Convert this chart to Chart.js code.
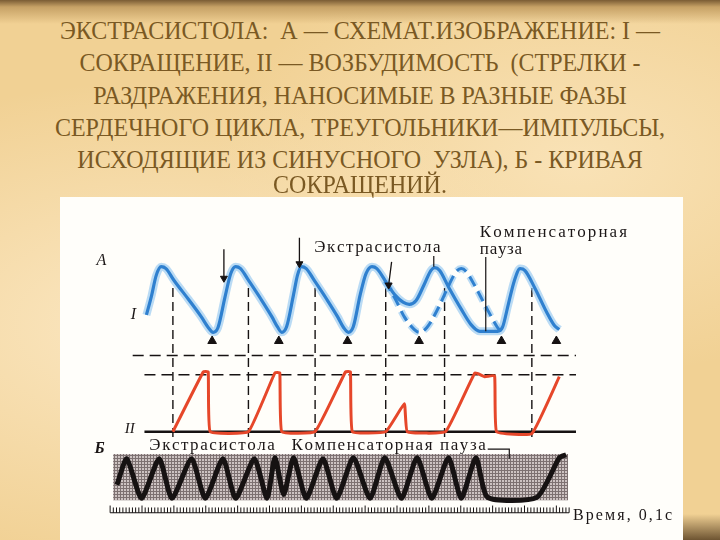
<!DOCTYPE html>
<html>
<head>
<meta charset="utf-8">
<script src="https://cdn.jsdelivr.net/npm/chart.js@4.4.1/dist/chart.umd.min.js"></script>
<style>
  html, body { margin: 0; padding: 0; }
  body {
    width: 720px; height: 540px; overflow: hidden; position: relative;
    background:
      linear-gradient(to bottom, #7a5c34 0px, #c7a266 7px, rgba(238,206,146,0) 24px),
      radial-gradient(ellipse 60% 45% at 22% 60%, #fbe7c2 0%, rgba(251,231,194,0) 100%),
      radial-gradient(ellipse 50% 40% at 80% 30%, #f9e2b6 0%, rgba(249,226,182,0) 100%),
      #f1d194;
  }
  .tl {
    position: absolute; left: 0; width: 720px; text-align: center; z-index: 2;
    font-family: "Liberation Serif", "DejaVu Serif", serif; font-size: 24px;
    line-height: 26px; color: #7a5923; white-space: nowrap;
    transform: scaleY(1.08);
  }
  #corner { position: absolute; left: 683px; top: 514px; width: 37px; height: 26px;
    background: linear-gradient(to bottom, rgba(110,84,50,0) 0%, #6e5432 100%); }
  #panel { position: absolute; left: 60px; top: 197px; width: 623px; height: 343px; background: #fffefa; }
  #fig { position: absolute; left: 60px; top: 197px; }
</style>
</head>
<body>
<div class="tl" style="top:17px">ЭКСТРАСИСТОЛА:&nbsp; А — СХЕМАТ.ИЗОБРАЖЕНИЕ: I —</div>
<div class="tl" style="top:49px">СОКРАЩЕНИЕ, II — ВОЗБУДИМОСТЬ&nbsp; (СТРЕЛКИ -</div>
<div class="tl" style="top:82px">РАЗДРАЖЕНИЯ, НАНОСИМЫЕ В РАЗНЫЕ ФАЗЫ</div>
<div class="tl" style="top:114px">СЕРДЕЧНОГО ЦИКЛА, ТРЕУГОЛЬНИКИ—ИМПУЛЬСЫ,</div>
<div class="tl" style="top:146px">ИСХОДЯЩИЕ ИЗ СИНУСНОГО&nbsp; УЗЛА), Б - КРИВАЯ</div>
<div class="tl" style="top:171px">СОКРАЩЕНИЙ.</div>
<div id="corner"></div>
<div id="panel"></div>
<canvas id="fig" width="623" height="343"></canvas>
<script>
// Curve I - contraction (solid) and expected normal course (dashed)
const contraction = [
  [8.2,22.7],[8.7,24.6],[9.2,26.8],[9.7,27.7],[10.2,27.5],[11.0,26.3],[12.5,24.3],[13.8,22.5],[14.5,21.4],
  [15.0,20.9],[15.5,21.4],[16.2,24.5],[16.8,27.0],[17.3,27.7],
  [17.8,27.5],[18.6,26.3],[19.9,24.3],[21.0,22.5],[21.6,21.4],[22.0,20.9],[22.5,21.5],[23.2,24.8],[23.6,26.8],[24.0,27.7],
  [24.5,27.5],[25.3,26.3],[26.6,24.3],[27.7,22.5],[28.3,21.4],[28.8,20.9],[29.3,21.5],[30.0,24.8],[30.6,27.0],[31.2,27.7],
  [31.7,27.5],[32.7,26.0],[33.6,24.7],[34.4,24.0],[35.0,23.8],[35.7,24.2],[36.5,25.8],[37.2,27.3],[37.6,27.6],
  [38.1,27.3],[39.0,25.6],[40.3,23.3],[41.3,21.7],[42.2,21.0],[44.0,21.0],[44.5,21.4],[45.1,23.8],[45.7,26.2],
  [46.3,27.5],[46.8,27.3],[47.8,25.5],[49.0,23.0],[49.8,21.6],[50.3,21.2]
];
const contractionNormal = [
  [32.5,26.2],[33.5,24.5],[34.5,22.5],[35.5,21.2],[36.0,20.9],[36.8,21.4],[38.0,23.5],[39.0,25.7],
  [39.8,27.2],[40.3,27.5],[40.8,27.2],[41.8,25.5],[43.0,23.2],[44.0,21.4],[44.3,21.0]
];
// Curve II - excitability
const excitability = [
  [10.9,10.6],[14.0,16.8],[14.5,16.8],[14.7,10.6],[18.6,10.6],[21.3,16.7],[21.8,16.7],[22.0,10.6],
  [25.4,10.6],[28.5,16.8],[29.0,16.8],[29.2,10.6],[32.6,10.6],[34.5,13.5],[34.8,10.6],[38.7,10.6],
  [41.7,16.7],[42.7,16.3],[43.7,16.4],[43.9,10.6],[47.5,10.4],[50.3,16.3]
];
// Curve B - recorded contractions
const recording = [
  [5.2,5.1],[6.2,7.8],[7.7,3.7],[9.5,7.8],[10.8,3.7],[12.8,7.8],[14.2,3.7],[16.0,7.8],[17.3,3.7],
  [19.2,7.8],[20.5,3.7],[21.3,7.9],[22.2,4.1],[23.2,7.9],[24.5,3.7],[26.2,7.8],[27.6,3.7],[29.3,7.9],
  [31.0,3.7],[32.5,7.9],[34.2,3.7],[35.8,7.9],[37.3,3.7],[39.0,7.9],[40.3,3.7],[41.8,7.9],[43.0,3.8],
  [48.0,3.8],[50.3,7.9],[51.0,8.2]
];
// sinus node impulses (triangles) and stimuli (arrows)
const impulseTimes = [14.9, 21.7, 28.7, 36.0, 44.4, 50.0];
const impulseLevel = 20.0;
const stimuli = [[16.1,29.5,16.1,26.5],[23.8,30.7,23.8,28.0],[33.2,28.2,32.9,25.8]];
const leaders = [[37.5,28.8,37.5,27.7],[42.8,28.7,42.8,21.0]];
const phaseLines = [10.9, 18.6, 25.4, 32.6, 38.6, 47.5];
const phaseTop = 25.5, phaseBottom = 10.0;
const dashedLevels = [[18.5,6.8,52.0],[16.5,8.0,52.0]];
const baseline = [10.6, 8.0, 52.0];
const band = [4.8, 51.2, 8.3, 3.5];
const pauseLeader = [[43.0,8.8],[45.2,8.8],[45.2,7.8]];
const ruler = { from: 4.5, to: 51.3, step: 0.325, base: 2.2, tick: 2.75, longTick: 2.95 };

const labels = [
  { text: 'А', x: 3.1, y: 28.3, font: 'italic 16px "Liberation Serif"' },
  { text: 'I', x: 6.6, y: 22.7, font: 'italic 16px "Liberation Serif"' },
  { text: 'II', x: 6.0, y: 10.9, font: 'italic 15px "Liberation Serif"' },
  { text: 'Б', x: 2.9, y: 8.8, font: 'italic bold 16px "Liberation Serif"' },
  { text: 'Экстрасистола', x: 25.3, to: 38.2, y: 29.7, font: '17px "Liberation Serif"' },
  { text: 'Компенсаторная', x: 42.2, to: 57.2, y: 31.2, font: '17px "Liberation Serif"' },
  { text: 'пауза', x: 42.2, to: 46.5, y: 29.5, font: '17px "Liberation Serif"' },
  { text: 'Экстрасистола', x: 8.5, to: 21.3, y: 9.2, font: '17px "Liberation Serif"' },
  { text: 'Компенсаторная пауза', x: 23.0, to: 42.8, y: 9.2, font: '17px "Liberation Serif"' },
  { text: 'Время, 0,1с', x: 51.7, to: 61.8, y: 1.9, font: '16px "Liberation Serif"' }
];

const pts = arr => arr.map(p => ({ x: p[0], y: p[1] }));

// segments separated by gaps
function segs(list) {
  const out = [];
  list.forEach(s => { out.push(...s, { x: s[s.length - 1].x, y: null }); });
  return out;
}

const rulerTicks = [];
for (let i = 0, t = ruler.from; t <= ruler.to + 0.001; i++, t = ruler.from + i * ruler.step) {
  rulerTicks.push([{ x: t, y: ruler.base }, { x: t, y: i % 10 === 0 ? ruler.longTick : ruler.tick }]);
}

// halftone pattern for the recording strip
const pc = document.createElement('canvas');
pc.width = 3; pc.height = 3;
const pctx = pc.getContext('2d');
pctx.fillStyle = '#cdc3c2'; pctx.fillRect(0, 0, 3, 3);
pctx.fillStyle = '#7d7171'; pctx.fillRect(0, 0, 3, 1); pctx.fillRect(0, 0, 1, 3);
const halftone = pctx.createPattern(pc, 'repeat');

const figureText = {
  id: 'figureText',
  afterDatasetsDraw(chart) {
    const { ctx, scales: { x, y } } = chart;
    ctx.save();
    ctx.fillStyle = '#1b1616';
    ctx.textBaseline = 'middle';
    labels.forEach(l => {
      ctx.font = l.font;
      const px = x.getPixelForValue(l.x), py = y.getPixelForValue(l.y);
      if (!l.to) { ctx.fillText(l.text, px, py); return; }
      const chars = [...l.text];
      const w = chars.reduce((s, c) => s + ctx.measureText(c).width, 0);
      const gap = (x.getPixelForValue(l.to) - px - w) / (chars.length - 1);
      let cx = px;
      chars.forEach(c => { ctx.fillText(c, cx, py); cx += ctx.measureText(c).width + gap; });
    });
    ctx.restore();
  }
};

const ink = '#161212';
const blueGlow = 'rgba(140,195,240,0.6)';
const blue = '#2f80cf';
const smooth = { cubicInterpolationMode: 'monotone' };

new Chart(document.getElementById('fig'), {
  type: 'line',
  data: {
    datasets: [
      // markers on top
      { data: impulseTimes.map(t => ({ x: t, y: impulseLevel })), showLine: false, pointStyle: 'triangle',
        pointRadius: 5, pointBackgroundColor: ink, pointBorderColor: ink, order: 0 },
      { data: stimuli.map(s => ({ x: s[2], y: s[3] })), showLine: false, pointStyle: 'triangle', pointRotation: 180,
        pointRadius: 4, pointBackgroundColor: ink, pointBorderColor: ink, order: 0 },
      { data: segs(stimuli.map(s => [{ x: s[0], y: s[1] }, { x: s[2], y: s[3] }])), borderColor: ink, borderWidth: 1.3, order: 0 },
      { data: segs(leaders.map(s => [{ x: s[0], y: s[1] }, { x: s[2], y: s[3] }])), borderColor: ink, borderWidth: 1.2, order: 0 },
      { data: pts(pauseLeader), borderColor: ink, borderWidth: 1.2, order: 0 },
      // curve I
      { data: pts(contraction), borderColor: blue, borderWidth: 3.2, ...smooth, order: 1 },
      { data: pts(contraction), borderColor: blueGlow, borderWidth: 8, ...smooth, order: 2 },
      { data: pts(contractionNormal), borderColor: blue, borderWidth: 3, borderDash: [11, 6], ...smooth, order: 1 },
      { data: pts(contractionNormal), borderColor: blueGlow, borderWidth: 7, borderDash: [11, 6], ...smooth, order: 2 },
      // curve II
      { data: pts(excitability), borderColor: '#e6472a', borderWidth: 3, tension: 0.1, order: 1 },
      // curve B
      { data: pts(recording), borderColor: ink, borderWidth: 5, tension: 0.2, order: 1 },
      // grid of the scheme
      { data: segs(phaseLines.map(t => [{ x: t, y: phaseTop }, { x: t, y: phaseBottom }])), borderColor: ink,
        borderWidth: 1.4, borderDash: [9, 5], order: 5 },
      { data: segs(dashedLevels.map(d => [{ x: d[1], y: d[0] }, { x: d[2], y: d[0] }])), borderColor: ink,
        borderWidth: 1.4, borderDash: [11, 6], order: 5 },
      { data: [{ x: baseline[1], y: baseline[0] }, { x: baseline[2], y: baseline[0] }], borderColor: ink, borderWidth: 2.5, order: 5 },
      // time marks
      { data: segs(rulerTicks), borderColor: ink, borderWidth: 1, order: 5 },
      { data: [{ x: ruler.from, y: ruler.base }, { x: ruler.to, y: ruler.base }], borderColor: ink, borderWidth: 1.2, order: 5 },
      // recording strip
      { data: [{ x: band[0], y: band[2] }, { x: band[1], y: band[2] }], borderWidth: 0, borderColor: 'rgba(0,0,0,0)',
        fill: { value: band[3] }, backgroundColor: halftone, order: 10 }
    ]
  },
  options: {
    responsive: false,
    animation: false,
    events: [],
    elements: { point: { radius: 0 } },
    scales: {
      x: { type: 'linear', min: 0, max: 62.3, display: false },
      y: { type: 'linear', min: 0, max: 34.3, display: false }
    },
    plugins: { legend: { display: false }, tooltip: { enabled: false } }
  },
  plugins: [figureText]
});
</script>
</body>
</html>
